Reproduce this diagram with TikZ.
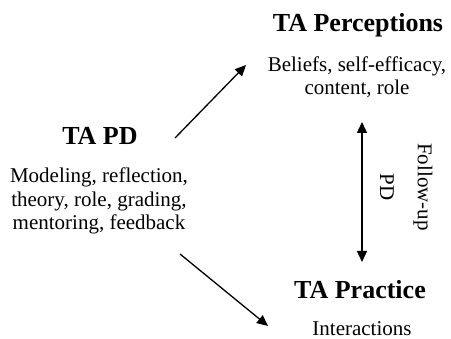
\documentclass[tikz,border=0pt]{standalone}
\usepackage{fontspec}
\setmainfont{Liberation Serif}
\usetikzlibrary{arrows.meta}
\begin{document}
\begin{tikzpicture}[x=1pt,y=-1pt,
  title/.style={font=\fontsize{26}{30}\selectfont\bfseries, inner sep=0pt, anchor=base},
  body/.style={font=\fontsize{21}{23.5}\selectfont, align=center, inner sep=0pt, anchor=base},
  side/.style={font=\fontsize{21}{23.5}\selectfont, inner sep=0pt, rotate=-90},
  link/.style={line width=1.3pt, -{Triangle[length=11pt,width=10pt]}},
  twoway/.style={line width=1.3pt, {Triangle[length=11pt,width=10pt]}-{Triangle[length=11pt,width=10pt]}}]
  \useasboundingbox (0,0) rectangle (451,339);

  % professional development block (body anchored on its last baseline)
  \node[title] (pdt) at (100,145) {TA PD};
  \node[body] (pdb) at (99,230) {Modeling, reflection,\\theory, role, grading,\\mentoring, feedback};

  % perceptions block
  \node[title] (pert) at (358,32) {TA Perceptions};
  \node[body] (perb) at (357,95) {Beliefs, self-efficacy,\\content, role};

  % practice block
  \node[title] (prat) at (360,299) {TA Practice};
  \node[body, text depth=0pt] (prab) at (362,336) {Interactions};

  % follow-up label
  \node[side] (fu) at (423,187) {Follow-up};
  \node[side] (fpd) at (387,187) {PD};

  % connectors
  \coordinate (a1s) at (175,138);
  \coordinate (a1e) at (246,65);
  \coordinate (a2s) at (180,254);
  \coordinate (a2e) at (268,326);
  \coordinate (a3s) at (362,122);
  \coordinate (a3e) at (362,262);
  \draw[link] (a1s) -- (a1e);
  \draw[link] (a2s) -- (a2e);
  \draw[twoway] (a3s) -- (a3e);
\end{tikzpicture}
\end{document}
